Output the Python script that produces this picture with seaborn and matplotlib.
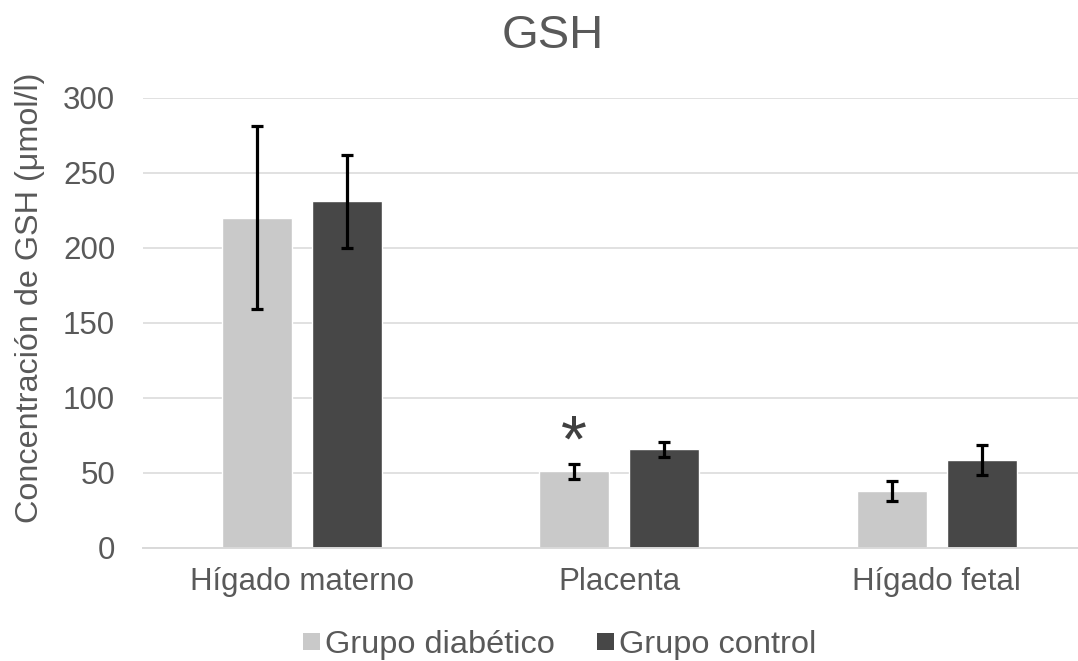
import matplotlib
matplotlib.use("Agg")
import matplotlib.pyplot as plt
from matplotlib.patches import Patch
import seaborn as sns
import pandas as pd

# Data: GSH concentration (µmol/l), mean and standard deviation per tissue
categories = ["Hígado materno", "Placenta", "Hígado fetal"]
groups = ["Grupo diabético", "Grupo control"]
diabetic_mean = [220, 51, 38]
diabetic_sd = [61, 5, 6.7]
control_mean = [231, 65.5, 58.5]
control_sd = [31, 5, 10]
y_ticks = [0, 50, 100, 150, 200, 250, 300]
significant = [(groups[0], "Placenta")]  # marked with an asterisk

df = pd.DataFrame({
    "tejido": categories * 2,
    "grupo": [groups[0]] * len(categories) + [groups[1]] * len(categories),
    "gsh": diabetic_mean + control_mean,
})
sd_by_group = {groups[0]: diabetic_sd, groups[1]: control_sd}
colors = {groups[0]: "#c9c9c9", groups[1]: "#474747"}

sns.set_theme(style="white")
plt.rcParams["font.family"] = ["Liberation Sans", "DejaVu Sans"]
text_color = "#595959"
fs = 22.5

W, H = 1078, 661
fig = plt.figure(figsize=(W / 100, H / 100), dpi=100)
ax = fig.add_axes([143 / W, 1 - 547.7 / H, (1095.5 - 143) / W, (547.7 - 97.5) / H])

sns.barplot(data=df, x="tejido", y="gsh", hue="grupo", order=categories,
            hue_order=groups, palette=colors, width=0.567, gap=0.222,
            errorbar=None, saturation=1, legend=False, ax=ax, zorder=2)

# Standard-deviation whiskers on top of each bar
centers = {}
for container, g in zip(ax.containers, groups):
    xs = [b.get_x() + b.get_width() / 2 for b in container]
    hs = [b.get_height() for b in container]
    centers[g] = dict(zip(categories, zip(xs, hs)))
    ax.errorbar(xs, hs, yerr=sd_by_group[g], fmt="none", ecolor="black",
                elinewidth=2.3, capsize=4, capthick=2.3, zorder=3)

for g, cat in significant:
    x, h = centers[g][cat]
    top = h + sd_by_group[g][categories.index(cat)]
    ax.text(x, top + 12.5, "*", ha="center", va="center", fontsize=48,
            color="#404040", zorder=4)

ax.set_xlim(-0.5, 2.5)
ax.set_ylim(0, 300)
ax.set_yticks(y_ticks)
ax.set_axisbelow(True)
ax.yaxis.grid(True, color="#d9d9d9", linewidth=1.1)
ax.xaxis.grid(False)
for side in ["top", "right", "left"]:
    ax.spines[side].set_visible(False)
ax.spines["bottom"].set_color("#d9d9d9")
ax.spines["bottom"].set_linewidth(1.4)
ax.tick_params(axis="y", length=0, pad=20, labelsize=fs, labelcolor=text_color)
ax.tick_params(axis="x", length=0, pad=14, labelsize=fs, labelcolor=text_color)
ax.set_xlabel("")
ax.set_ylabel("")

fig.text(30 / W, 1 - 298 / H, "Concentración de GSH (μmol/l)", rotation=90,
         ha="center", va="center", fontsize=23.3, color=text_color)
fig.text(553 / W, 1 - 36 / H, "GSH", ha="center", va="center",
         fontsize=34, color=text_color)

handles = [Patch(facecolor=colors[g], edgecolor="none", label=g) for g in groups]
fig.legend(handles=handles, loc="center", bbox_to_anchor=(559.5 / W, 1 - 645 / H),
           ncol=2, frameon=False, fontsize=23.4, labelcolor=text_color,
           handlelength=0.52, handleheight=0.46, handletextpad=0.15,
           columnspacing=1.29, borderpad=0, borderaxespad=0)

fig.savefig("out.png", dpi=100)
